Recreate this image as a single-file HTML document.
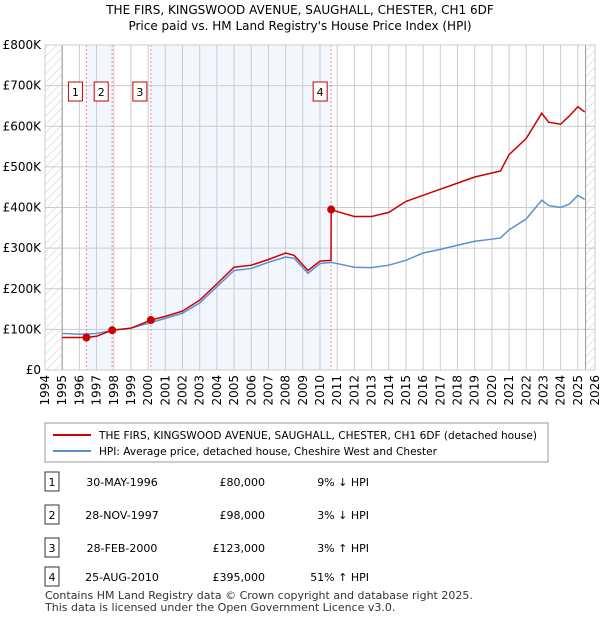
<!DOCTYPE html>
<html><head><meta charset="utf-8"><style>
body{margin:0;background:#fff;font-family:"Liberation Sans",sans-serif;}
svg text{font-family:"DejaVu Sans","Liberation Sans",sans-serif;}
</style></head><body>
<svg width="600" height="620" xmlns="http://www.w3.org/2000/svg">
<defs><pattern id="hatch" width="6" height="6" patternUnits="userSpaceOnUse" patternTransform="rotate(45)"><line x1="0" y1="0" x2="0" y2="6" stroke="#ccc" stroke-width="1"/></pattern></defs>
<text x="300" y="14" text-anchor="middle" font-size="12">THE FIRS, KINGSWOOD AVENUE, SAUGHALL, CHESTER, CH1 6DF</text>
<text x="300" y="30" text-anchor="middle" font-size="12">Price paid vs. HM Land Registry's House Price Index (HPI)</text>
<g id="plot"></g>
<g>
<rect x="45" y="423" width="503" height="39" fill="#fff" stroke="#999"/>
<line x1="53" y1="435" x2="91" y2="435" stroke="#cc0000" stroke-width="2"/>
<text x="99" y="439" font-size="10.5" textLength="438" lengthAdjust="spacingAndGlyphs">THE FIRS, KINGSWOOD AVENUE, SAUGHALL, CHESTER, CH1 6DF (detached house)</text>
<line x1="53" y1="451" x2="91" y2="451" stroke="#5b8fd4" stroke-width="2"/>
<text x="99" y="455" font-size="10.5" textLength="338" lengthAdjust="spacingAndGlyphs">HPI: Average price, detached house, Cheshire West and Chester</text>
</g>
<g id="table" font-size="11"></g>
<text x="45" y="599" font-size="11" fill="#333">Contains HM Land Registry data © Crown copyright and database right 2025.</text>
<text x="45" y="611" font-size="11" fill="#333">This data is licensed under the Open Government Licence v3.0.</text>
</svg>
<script>
const hpiYears=[1995,1996,1997,1998,1999,2000,2001,2002,2003,2004,2005,2006,2007,2008,2008.5,2009.3,2010,2010.65,2011,2012,2013,2014,2015,2016,2017,2018,2019,2020,2020.5,2021,2022,2022.9,2023.3,2024,2024.5,2025,2025.4];
const hpiValues=[90,88,90,98,103,115,127,140,165,205,245,250,265,278,275,238,262,265,262,253,252,258,270,288,297,307,317,322,325,345,372,418,405,400,408,430,420];
const priceYears=[1995,1996.4,1997,1997.9,1999,2000.16,2001,2002,2003,2004,2005,2006,2007,2008,2008.5,2009.3,2010,2010.64,2010.65,2011,2012,2013,2014,2015,2016,2017,2018,2019,2020,2020.5,2021,2022,2022.9,2023.3,2024,2024.5,2025,2025.4];
const priceValues=[80,80,83,98,103,123,132,145,172,212,253,258,272,288,282,245,268,270,395,390,378,378,388,415,430,445,460,475,485,490,530,570,632,610,605,625,648,635];
const saleYears=[1996.41,1997.91,2000.16,2010.65];
const saleValues=[80,98,123,395];
const saleLabels=["1","2","3","4"];
const saleDates=["30-MAY-1996","28-NOV-1997","28-FEB-2000","25-AUG-2010"];
const salePrices=["£80,000","£98,000","£123,000","£395,000"];
const saleHpi=["9% ↓ HPI","3% ↓ HPI","3% ↑ HPI","51% ↑ HPI"];
const yTicks=[0,100,200,300,400,500,600,700,800];
const yTickLabels=["£0","£100K","£200K","£300K","£400K","£500K","£600K","£700K","£800K"];
const xTicks=[1994,1995,1996,1997,1998,1999,2000,2001,2002,2003,2004,2005,2006,2007,2008,2009,2010,2011,2012,2013,2014,2015,2016,2017,2018,2019,2020,2021,2022,2023,2024,2025,2026];

const NS="http://www.w3.org/2000/svg";
const L=45,R=595,T=45,B=370;
const xs=y=>L+(y-1994)/(2026-1994)*(R-L);
const ys=v=>B-v/800*(B-T);
const plot=document.getElementById('plot');
function mk(tag,attrs,parent){const e=document.createElementNS(NS,tag);for(const k in attrs)e.setAttribute(k,attrs[k]);(parent||plot).appendChild(e);return e;}
let e;
e=mk('rect',{x:L,y:T,width:R-L,height:B-T,fill:'#fff'});


[[0,1],[2,3]].forEach(p=>{
 e=mk('rect',{x:xs(saleYears[p[0]]),y:T,width:xs(saleYears[p[1]])-xs(saleYears[p[0]]),height:B-T,fill:'#f2f6fe'});
 
 
});
e=mk('rect',{x:L,y:T,width:xs(1995)-L,height:B-T,fill:'url(#hatch)'});


e=mk('rect',{x:xs(2025.45),y:T,width:R-xs(2025.45),height:B-T,fill:'url(#hatch)'});


yTicks.forEach((v,i)=>{
 e=mk('line',{x1:L,x2:R,y1:ys(v),y2:ys(v),stroke:'#ccc'});
 
 
 e=mk('text',{x:L-4,y:ys(v)+4,'text-anchor':'end','font-size':12});
 e.textContent=yTickLabels[i];
 
 
});
xTicks.forEach(y=>{
 e=mk('line',{x1:xs(y),x2:xs(y),y1:T,y2:B,stroke:'#ccc'});
 
 
 e=mk('text',{x:xs(y)+4,y:B+5,'text-anchor':'end','font-size':12,transform:`rotate(-90 ${xs(y)+4} ${B+5})`});
 e.textContent=y;
 
 
});
e=mk('line',{x1:xs(1995),x2:xs(1995),y1:T,y2:B,stroke:'#999'});


e=mk('line',{x1:xs(2025.45),x2:xs(2025.45),y1:T,y2:B,stroke:'#999'});


saleYears.forEach((y,i)=>{
 e=mk('line',{x1:xs(y),x2:xs(y),y1:T,y2:B,stroke:'#e88a94','stroke-dasharray':'2,2'});
 
 
 e=mk('rect',{x:xs(y)-18,y:82,width:14,height:19,fill:'#fff',stroke:'#cc0000'});
 
 
 e=mk('text',{x:xs(y)-11,y:96,'text-anchor':'middle','font-size':11});
 e.textContent=saleLabels[i];
 
 
});
e=mk('polyline',{points:hpiYears.map((y,i)=>xs(y)+','+ys(hpiValues[i])).join(' '),fill:'none',stroke:'#5b8fd4','stroke-width':1.5});


e=mk('polyline',{points:priceYears.map((y,i)=>xs(y)+','+ys(priceValues[i])).join(' '),fill:'none',stroke:'#cc0000','stroke-width':1.5});


saleYears.forEach((y,i)=>{
 e=mk('circle',{cx:xs(y),cy:ys(saleValues[i]),r:4,fill:'#cc0000'});
 
 
});
e=mk('rect',{x:L,y:T,width:R-L,height:B-T,fill:'none',stroke:'#ccc'});


const tb=document.getElementById('table');
const rowY=[482,515,548,577];
saleLabels.forEach((s,i)=>{
 const y=rowY[i];
 e=mk('rect',{x:45,y:y-10,width:14,height:19,fill:'#fff',stroke:'#333'},tb);
 
 
 e=mk('text',{x:52,y:y+4,'text-anchor':'middle'},tb);e.textContent=s;
 
 
 e=mk('text',{x:122,y:y+4,'text-anchor':'middle'},tb);e.textContent=saleDates[i];
 
 
 e=mk('text',{x:265,y:y+4,'text-anchor':'end'},tb);e.textContent=salePrices[i];
 
 
 e=mk('text',{x:369,y:y+4,'text-anchor':'end'},tb);e.textContent=saleHpi[i];
 
 
});
</script>
</body></html>
